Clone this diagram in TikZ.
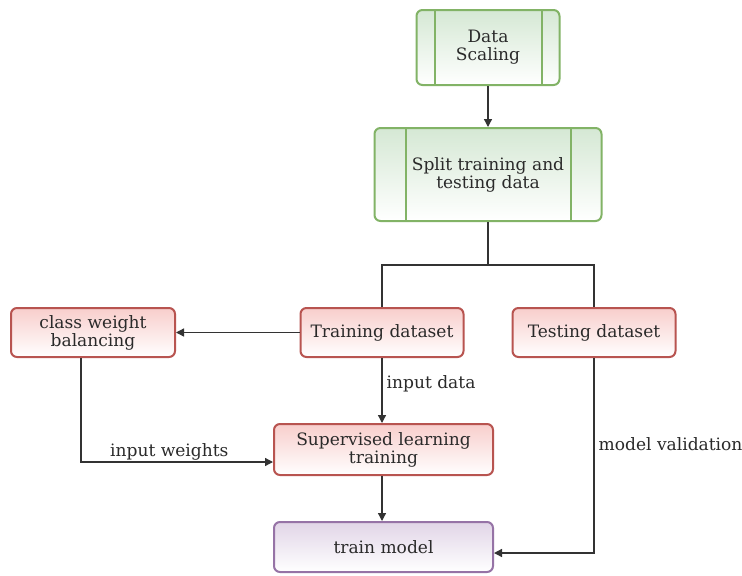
\documentclass[tikz,border=0pt]{standalone}
\usepackage{fontspec}
\setmainfont{DejaVu Serif}
\usetikzlibrary{arrows.meta,shadings}
\definecolor{gfill}{HTML}{D5E8D4}
\definecolor{gline}{HTML}{82B366}
\definecolor{rfill}{HTML}{F8CECC}
\definecolor{rline}{HTML}{B85450}
\definecolor{pfill}{HTML}{E1D5E7}
\definecolor{pline}{HTML}{9673A6}
\definecolor{txt}{HTML}{2A2A2A}
\definecolor{conn}{HTML}{333333}
\begin{document}
\begin{tikzpicture}[x=0.75pt,y=-0.75pt,
  box/.style={rounded corners=4.5pt,line width=1.5pt,align=center,text=txt,font=\fontsize{12.8}{13.6}\selectfont,inner sep=0pt},
  gbox/.style={box,draw=gline,top color=gfill,bottom color=white},
  rbox/.style={box,draw=rline,top color=rfill,bottom color=white},
  pbox/.style={box,draw=pline,top color=pfill,bottom color=white},
  conn/.style={draw=conn,line width=1pt,-{Triangle[length=6pt,width=6pt]}},
  lab/.style={text=txt,font=\fontsize{12.8}{13.6}\selectfont,inner sep=0pt}]
\useasboundingbox[fill=white] (0,0) rectangle (742,575);
% nodes
\node[gbox,minimum width=107.25pt,minimum height=56.25pt] (ds) at (488,47.5) {Data\\Scaling};
\node[gbox,minimum width=170.25pt,minimum height=69.75pt] (sp) at (488,174.5) {Split training and\\testing data};
\node[rbox,minimum width=122.25pt,minimum height=36.75pt] (tr) at (382,332.5) {Training dataset};
\node[rbox,minimum width=122.25pt,minimum height=36.75pt] (te) at (594,332.5) {Testing dataset};
\node[rbox,minimum width=123pt,minimum height=36.75pt] (cw) at (93,332.5) {class weight\\balancing};
\node[rbox,minimum width=164.25pt,minimum height=38.25pt] (sl) at (383.5,449.5) {Supervised learning\\training};
\node[pbox,minimum width=164.25pt,minimum height=37.5pt] (tm) at (383.5,547) {train model};
% process inner lines
\draw[gline,line width=1.5pt] ([xshift=14.25pt]ds.north west) -- ([xshift=14.25pt]ds.south west);
\draw[gline,line width=1.5pt] ([xshift=-14.25pt]ds.north east) -- ([xshift=-14.25pt]ds.south east);
\draw[gline,line width=1.5pt] ([xshift=24pt]sp.north west) -- ([xshift=24pt]sp.south west);
\draw[gline,line width=1.5pt] ([xshift=-24pt]sp.north east) -- ([xshift=-24pt]sp.south east);
% coordinates
\coordinate (split) at (488,265);
\coordinate (cwc) at (81,462);
\coordinate (tec) at (594,553);
% connectors
\draw[conn] (ds.south) -- (sp.north);
\draw[conn,line width=2.2pt,-] (sp.south) -- (split);
\draw[conn,line width=2pt,-] (tr.north) |- (split) -| (te.north);
\draw[conn] (tr.west) -- (cw.east);
\draw[conn] (tr.south) -- node[lab,anchor=west,pos=0.4,xshift=3pt]{input data} (sl.north -| tr.south);
\draw[conn] (cw.south -| cwc) -- (cwc) -- node[lab,anchor=south,pos=0.46,yshift=0.5pt]{input weights} (sl.west |- cwc);
\draw[conn] (sl.south -| tr.south) -- (tm.north -| tr.south);
\draw[conn] (te.south) -- node[lab,anchor=west,pos=0.44,xshift=3pt]{model validation} (tec) -- (tm.east |- tec);
\end{tikzpicture}
\end{document}
